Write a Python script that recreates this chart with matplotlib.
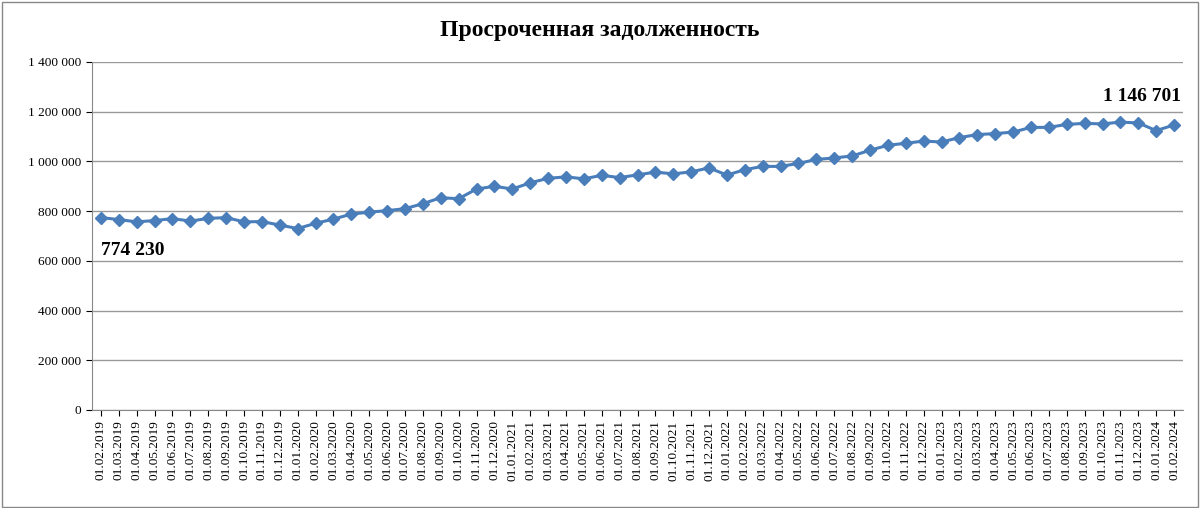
import matplotlib
matplotlib.use("Agg")
import matplotlib.pyplot as plt
from matplotlib.ticker import FuncFormatter
from matplotlib.patches import Rectangle

dates = []
for y in range(2019, 2025):
    for m in range(1, 13):
        if (y == 2019 and m < 2) or (y == 2024 and m > 2):
            continue
        dates.append(f"01.{m:02d}.{y}")

values = [774230, 766, 757, 762, 770, 760, 771, 774, 757, 758, 744,
          730, 751, 768, 788, 796, 802, 810, 830, 854, 850, 889, 900,
          889, 914, 932, 938, 930, 944, 935, 946, 957, 950, 958, 974,
          945, 967, 980, 980, 992, 1008, 1014, 1022, 1045, 1065, 1073, 1082,
          1078, 1096, 1108, 1112, 1118, 1137, 1137, 1149, 1153, 1151, 1158, 1155,
          1124, 1146.701]
values = [v if v > 10000 else v * 1000 for v in values]

plt.rcParams['font.family'] = ['Liberation Serif', 'DejaVu Serif']
fig = plt.figure(figsize=(12, 5.08), dpi=100)
fig.patches.append(Rectangle((0.002, 0.002), 0.996, 0.994, transform=fig.transFigure,
                             fill=False, edgecolor='#888888', lw=1))
ax = fig.add_axes([92/1200, 1-410/508, 1091/1200, 348/508])
x = list(range(len(values)))
ax.plot(x, values, color='#4a7ebb', lw=2.2, marker='D', markersize=6)
ax.set_xlim(-0.5, len(values)-0.5)
ax.set_ylim(0, 1400000)
ax.set_yticks(range(0, 1400001, 200000))
ax.yaxis.set_major_formatter(FuncFormatter(lambda v, p: f"{int(v):,}".replace(",", " ")))
ax.set_xticks(x)
ax.set_xticklabels(dates, rotation=90, fontsize=9.5)
ax.tick_params(axis='y', labelsize=9.5, length=4)
ax.tick_params(axis='x', length=4)
ax.grid(axis='y', color='#999999', lw=1)
ax.set_axisbelow(True)
for s in ['top', 'right']:
    ax.spines[s].set_visible(False)
for s in ['left', 'bottom']:
    ax.spines[s].set_color('#888888')
ax.text(0, 640000, "774 230", fontsize=14, fontweight='bold', ha='left', va='center')
ax.text(len(values)-1 + 0.4, 1260000, "1 146 701", fontsize=14, fontweight='bold', ha='right', va='center')
fig.text(0.5, 0.94, "Просроченная задолженность", ha='center', va='center', fontsize=17, fontweight='bold')
fig.savefig("out.png", dpi=100)
